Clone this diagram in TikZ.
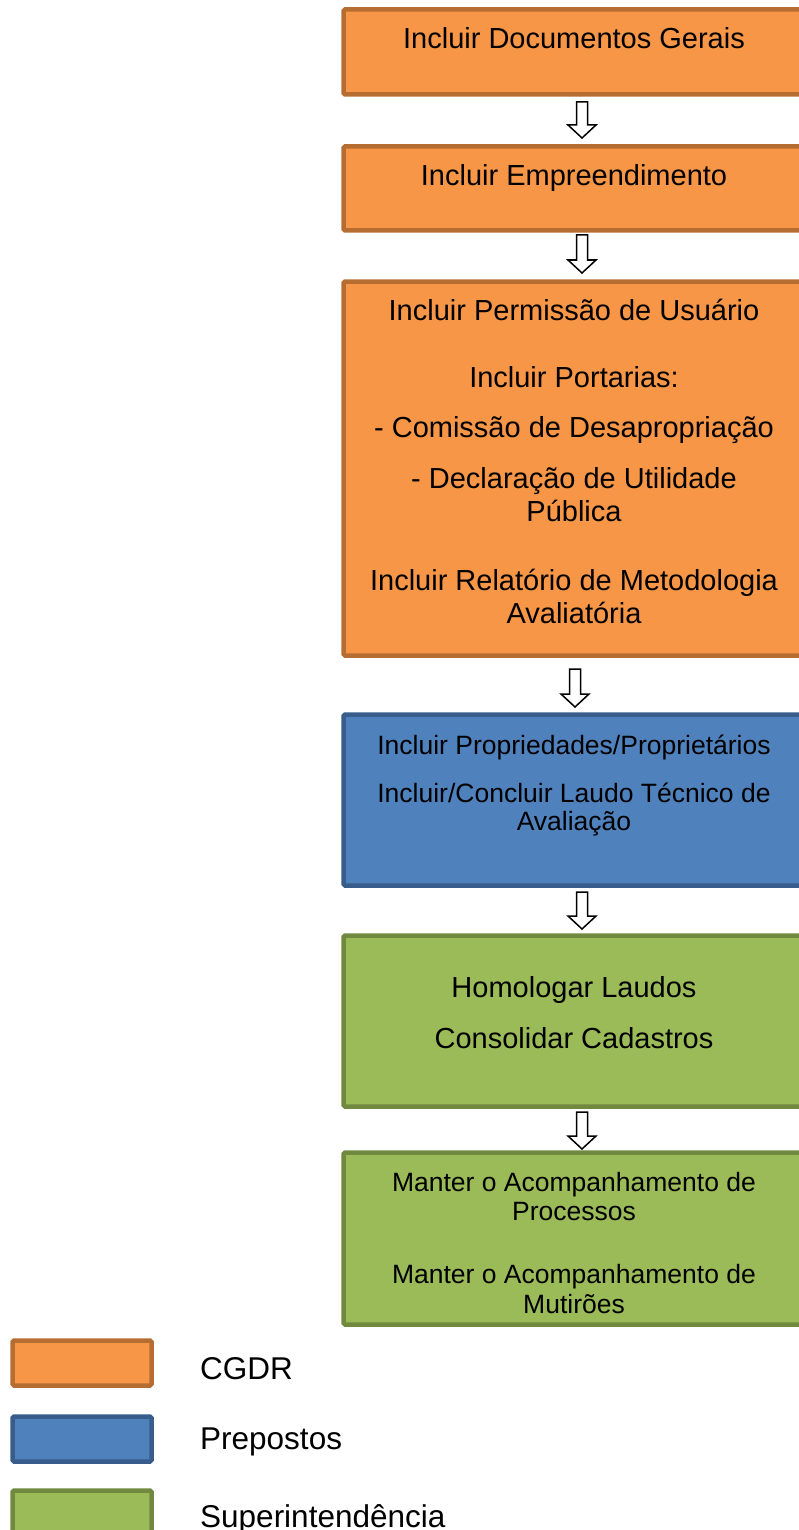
\documentclass[tikz,border=0pt]{standalone}
\usepackage{fontspec}
\setmainfont{Liberation Sans}
\usetikzlibrary{calc}
\definecolor{orfill}{HTML}{F79646}
\definecolor{ordraw}{HTML}{B66D31}
\definecolor{blfill}{HTML}{4F81BD}
\definecolor{bldraw}{HTML}{385D8A}
\definecolor{grfill}{HTML}{9BBB59}
\definecolor{grdraw}{HTML}{71893F}
\tikzset{
  boxbase/.style={rectangle, line width=4.5pt, rounded corners=1.5pt, outer sep=0pt, inner sep=0pt, anchor=north west, minimum width=462.5pt},
  orbox/.style={boxbase, fill=orfill, draw=ordraw},
  blbox/.style={boxbase, fill=blfill, draw=bldraw},
  grbox/.style={boxbase, fill=grfill, draw=grdraw},
  lgbox/.style={boxbase, minimum width=139pt, minimum height=45pt},
  bigtxt/.style={anchor=base, inner sep=0pt, font=\fontsize{29}{33}\selectfont},
  smalltxt/.style={anchor=base, inner sep=0pt, font=\fontsize{26.5}{30}\selectfont},
  legtxt/.style={anchor=base west, inner sep=0pt, font=\fontsize{31.5}{36}\selectfont},
  hollowarrow/.style={draw=black, fill=white, line width=1.5pt, line join=miter}
}
\newcommand\flowarrow[5]{%
  \draw[hollowarrow] let \p1=(#1.south), \p2=(#2.north) in
    ({#3pt-5.5pt},{\y1-#4pt}) -- ({#3pt+5.5pt},{\y1-#4pt})
    -- ({#3pt+5.5pt},{\y2+#5pt+13pt}) -- ({#3pt+14pt},{\y2+#5pt+13pt})
    -- ({#3pt},{\y2+#5pt}) -- ({#3pt-14pt},{\y2+#5pt+13pt})
    -- ({#3pt-5.5pt},{\y2+#5pt+13pt}) -- cycle;}
\begin{document}
\begin{tikzpicture}[x=1pt,y=-1pt]
\useasboundingbox (0,0) rectangle (798,1530);
% boxes
\node[orbox, minimum height=85pt] (b1) at (343.5,9.5) {};
\node[orbox, minimum height=84pt] (b2) at (343.5,146.5) {};
\node[orbox, minimum height=374pt] (b3) at (343.5,281.5) {};
\node[blbox, minimum height=171pt] (b4) at (343.5,714.5) {};
\node[grbox, minimum height=171pt] (b5) at (343.5,935.5) {};
\node[grbox, minimum height=172pt] (b6) at (343.5,1152.5) {};
% texts
\node[bigtxt] (t1) at (574,49) {Incluir Documentos Gerais};
\node[bigtxt] (t2) at (574,186) {Incluir Empreendimento};
\node[bigtxt] (t3a) at (574,320) {Incluir Permissão de Usuário};
\node[bigtxt] (t3b) at (574,387) {Incluir Portarias:};
\node[bigtxt] (t3c) at (574,437) {- Comissão de Desapropriação};
\node[bigtxt] (t3d) at (574,488) {- Declaração de Utilidade};
\node[bigtxt] (t3e) at (574,521) {Pública};
\node[bigtxt] (t3f) at (574,590) {Incluir Relatório de Metodologia};
\node[bigtxt] (t3g) at (574,623) {Avaliatória};
\node[smalltxt] (t4a) at (574,754) {Incluir Propriedades/Proprietários};
\node[smalltxt] (t4b) at (574,802) {Incluir/Concluir Laudo Técnico de};
\node[smalltxt] (t4c) at (574,830) {Avaliação};
\node[bigtxt] (t5a) at (574,997) {Homologar Laudos};
\node[bigtxt] (t5b) at (574,1048) {Consolidar Cadastros};
\node[smalltxt] (t6a) at (574,1191) {Manter o Acompanhamento de};
\node[smalltxt] (t6b) at (574,1220) {Processos};
\node[smalltxt] (t6c) at (574,1283) {Manter o Acompanhamento de};
\node[smalltxt] (t6d) at (574,1313) {Mutirões};
% arrows
\flowarrow{b1}{b2}{582}{7.5}{8.5}
\flowarrow{b2}{b3}{582}{4.5}{8.5}
\flowarrow{b3}{b4}{575}{13.5}{7.5}
\flowarrow{b4}{b5}{582}{6.5}{6.5}
\flowarrow{b5}{b6}{582}{5.5}{3.5}
% legend
\node[lgbox, fill=orfill, draw=ordraw] (l1) at (12.5,1340.5) {};
\node[lgbox, fill=blfill, draw=bldraw] (l2) at (12.5,1416.5) {};
\node[lgbox, fill=grfill, draw=grdraw] (l3) at (12.5,1490.5) {};
\node[legtxt] (lt1) at (200,1379) {CGDR};
\node[legtxt] (lt2) at (200,1449) {Prepostos};
\node[legtxt] (lt3) at (200,1527) {Superintendência};
\end{tikzpicture}
\end{document}
